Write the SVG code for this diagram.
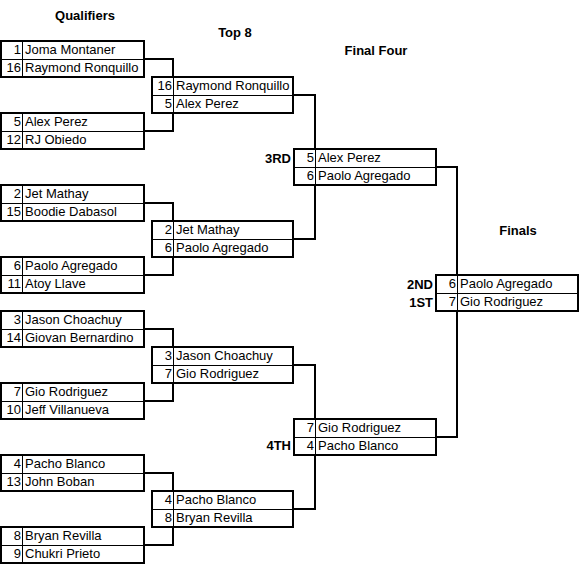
<svg xmlns="http://www.w3.org/2000/svg" width="580" height="580" viewBox="0 0 580 580">
<style>
.box{fill:#fff;stroke:#000;stroke-width:2}
.ln{stroke:#000;stroke-width:1}
.t{font-family:"Liberation Sans",Arial,sans-serif;font-size:13px;fill:#000}
.n{text-anchor:end}
.h{font-family:"Liberation Sans",Arial,sans-serif;font-size:13px;font-weight:bold;fill:#000}
.hc{text-anchor:middle}
.he{text-anchor:end}
.c{fill:none;stroke:#000;stroke-width:2}
</style>
<rect width="580" height="580" fill="#fff"/>
<g id="headers">
<text class="h hc" x="85" y="20">Qualifiers</text>
<text class="h hc" x="235" y="37">Top 8</text>
<text class="h hc" x="376" y="55">Final Four</text>
<text class="h hc" x="518" y="235">Finals</text>
</g>
<g id="connectors">
<path class="c" d="M144,59H173V77"/>
<path class="c" d="M144,131H173V113"/>
<path class="c" d="M144,203H173V221"/>
<path class="c" d="M144,275H173V257"/>
<path class="c" d="M144,329H173V347"/>
<path class="c" d="M144,401H173V383"/>
<path class="c" d="M144,473H173V491"/>
<path class="c" d="M144,545H173V527"/>
<path class="c" d="M293,95H315V149"/>
<path class="c" d="M293,239H315V185"/>
<path class="c" d="M293,365H315V419"/>
<path class="c" d="M293,509H315V455"/>
<path class="c" d="M436,167H457V275"/>
<path class="c" d="M436,437H457V311"/>
</g>
<g id="q1"><rect class="box" x="1" y="41" width="143" height="36"/><line class="ln" x1="1" y1="59.5" x2="144" y2="59.5"/><line class="ln" x1="22.5" y1="41" x2="22.5" y2="77"/><text class="t n" x="21" y="54">1</text><text class="t" x="25" y="54">Joma Montaner</text><text class="t n" x="21" y="72">16</text><text class="t" x="25" y="72">Raymond Ronquillo</text></g>
<g id="q2"><rect class="box" x="1" y="113" width="143" height="36"/><line class="ln" x1="1" y1="131.5" x2="144" y2="131.5"/><line class="ln" x1="22.5" y1="113" x2="22.5" y2="149"/><text class="t n" x="21" y="126">5</text><text class="t" x="25" y="126">Alex Perez</text><text class="t n" x="21" y="144">12</text><text class="t" x="25" y="144">RJ Obiedo</text></g>
<g id="q3"><rect class="box" x="1" y="185" width="143" height="36"/><line class="ln" x1="1" y1="203.5" x2="144" y2="203.5"/><line class="ln" x1="22.5" y1="185" x2="22.5" y2="221"/><text class="t n" x="21" y="198">2</text><text class="t" x="25" y="198">Jet Mathay</text><text class="t n" x="21" y="216">15</text><text class="t" x="25" y="216">Boodie Dabasol</text></g>
<g id="q4"><rect class="box" x="1" y="257" width="143" height="36"/><line class="ln" x1="1" y1="275.5" x2="144" y2="275.5"/><line class="ln" x1="22.5" y1="257" x2="22.5" y2="293"/><text class="t n" x="21" y="270">6</text><text class="t" x="25" y="270">Paolo Agregado</text><text class="t n" x="21" y="288">11</text><text class="t" x="25" y="288">Atoy Llave</text></g>
<g id="q5"><rect class="box" x="1" y="311" width="143" height="36"/><line class="ln" x1="1" y1="329.5" x2="144" y2="329.5"/><line class="ln" x1="22.5" y1="311" x2="22.5" y2="347"/><text class="t n" x="21" y="324">3</text><text class="t" x="25" y="324">Jason Choachuy</text><text class="t n" x="21" y="342">14</text><text class="t" x="25" y="342">Giovan Bernardino</text></g>
<g id="q6"><rect class="box" x="1" y="383" width="143" height="36"/><line class="ln" x1="1" y1="401.5" x2="144" y2="401.5"/><line class="ln" x1="22.5" y1="383" x2="22.5" y2="419"/><text class="t n" x="21" y="396">7</text><text class="t" x="25" y="396">Gio Rodriguez</text><text class="t n" x="21" y="414">10</text><text class="t" x="25" y="414">Jeff Villanueva</text></g>
<g id="q7"><rect class="box" x="1" y="455" width="143" height="36"/><line class="ln" x1="1" y1="473.5" x2="144" y2="473.5"/><line class="ln" x1="22.5" y1="455" x2="22.5" y2="491"/><text class="t n" x="21" y="468">4</text><text class="t" x="25" y="468">Pacho Blanco</text><text class="t n" x="21" y="486">13</text><text class="t" x="25" y="486">John Boban</text></g>
<g id="q8"><rect class="box" x="1" y="527" width="143" height="36"/><line class="ln" x1="1" y1="545.5" x2="144" y2="545.5"/><line class="ln" x1="22.5" y1="527" x2="22.5" y2="563"/><text class="t n" x="21" y="540">8</text><text class="t" x="25" y="540">Bryan Revilla</text><text class="t n" x="21" y="558">9</text><text class="t" x="25" y="558">Chukri Prieto</text></g>
<g id="t1"><rect class="box" x="152" y="77" width="141" height="36"/><line class="ln" x1="152" y1="95.5" x2="293" y2="95.5"/><line class="ln" x1="173.5" y1="77" x2="173.5" y2="113"/><text class="t n" x="172" y="90">16</text><text class="t" x="176" y="90">Raymond Ronquillo</text><text class="t n" x="172" y="108">5</text><text class="t" x="176" y="108">Alex Perez</text></g>
<g id="t2"><rect class="box" x="152" y="221" width="141" height="36"/><line class="ln" x1="152" y1="239.5" x2="293" y2="239.5"/><line class="ln" x1="173.5" y1="221" x2="173.5" y2="257"/><text class="t n" x="172" y="234">2</text><text class="t" x="176" y="234">Jet Mathay</text><text class="t n" x="172" y="252">6</text><text class="t" x="176" y="252">Paolo Agregado</text></g>
<g id="t3"><rect class="box" x="152" y="347" width="141" height="36"/><line class="ln" x1="152" y1="365.5" x2="293" y2="365.5"/><line class="ln" x1="173.5" y1="347" x2="173.5" y2="383"/><text class="t n" x="172" y="360">3</text><text class="t" x="176" y="360">Jason Choachuy</text><text class="t n" x="172" y="378">7</text><text class="t" x="176" y="378">Gio Rodriguez</text></g>
<g id="t4"><rect class="box" x="152" y="491" width="141" height="36"/><line class="ln" x1="152" y1="509.5" x2="293" y2="509.5"/><line class="ln" x1="173.5" y1="491" x2="173.5" y2="527"/><text class="t n" x="172" y="504">4</text><text class="t" x="176" y="504">Pacho Blanco</text><text class="t n" x="172" y="522">8</text><text class="t" x="176" y="522">Bryan Revilla</text></g>
<g id="f1"><rect class="box" x="294" y="149" width="142" height="36"/><line class="ln" x1="294" y1="167.5" x2="436" y2="167.5"/><line class="ln" x1="315.5" y1="149" x2="315.5" y2="185"/><text class="t n" x="314" y="162">5</text><text class="t" x="318" y="162">Alex Perez</text><text class="t n" x="314" y="180">6</text><text class="t" x="318" y="180">Paolo Agregado</text><text class="h he" x="291" y="163">3RD</text></g>
<g id="f2"><rect class="box" x="294" y="419" width="142" height="36"/><line class="ln" x1="294" y1="437.5" x2="436" y2="437.5"/><line class="ln" x1="315.5" y1="419" x2="315.5" y2="455"/><text class="t n" x="314" y="432">7</text><text class="t" x="318" y="432">Gio Rodriguez</text><text class="t n" x="314" y="450">4</text><text class="t" x="318" y="450">Pacho Blanco</text><text class="h he" x="291" y="450">4TH</text></g>
<g id="final"><rect class="box" x="436" y="275" width="142" height="36"/><line class="ln" x1="436" y1="293.5" x2="578" y2="293.5"/><line class="ln" x1="457.5" y1="275" x2="457.5" y2="311"/><text class="t n" x="456" y="288">6</text><text class="t" x="460" y="288">Paolo Agregado</text><text class="t n" x="456" y="306">7</text><text class="t" x="460" y="306">Gio Rodriguez</text><text class="h he" x="433" y="289">2ND</text><text class="h he" x="433" y="307">1ST</text></g>
</svg>
